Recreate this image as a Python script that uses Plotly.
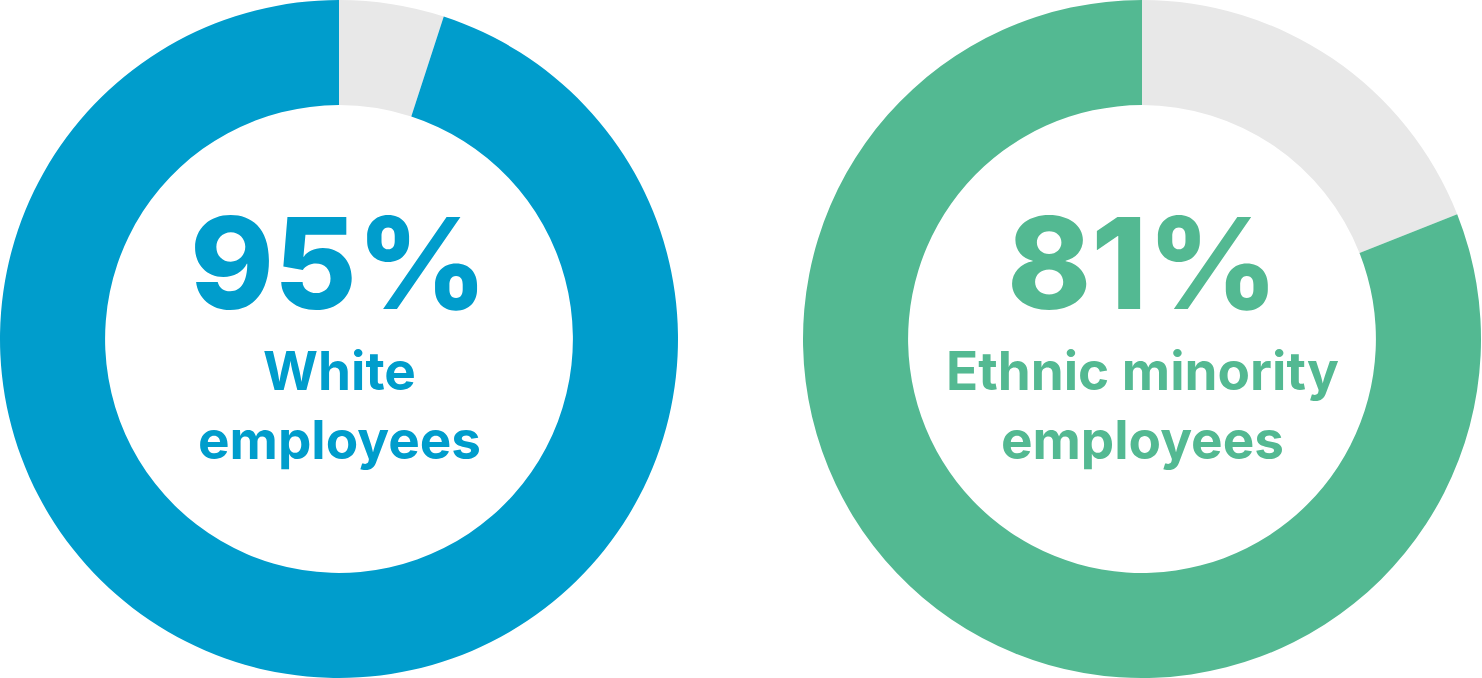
import plotly.graph_objects as go

# share of employees answering positively, by group (percent)
groups = ["White employees", "Ethnic minority employees"]
values = [95, 81]
label_lines = [["White", "employees"], ["Ethnic minority", "employees"]]
colours = ["#009DCC", "#53B992"]
grey = "#E8E8E8"

W, H = 1482, 678
FONT = "Inter"

fig = go.Figure()

# donut domains (left and right squares of full height)
domains = [[0, 678 / W], [803 / W, 1481 / W]]

for i, g in enumerate(groups):
    v = values[i]
    fig.add_trace(go.Pie(
        labels=["rest", g],
        values=[100 - v, v],
        hole=0.69,
        sort=False,
        direction="clockwise",
        rotation=0,
        marker=dict(colors=[grey, colours[i]], line=dict(width=0)),
        textinfo="none",
        hoverinfo="label+value",
        showlegend=False,
        domain=dict(x=domains[i], y=[0, 1]),
    ))

    cx = (domains[i][0] + domains[i][1]) / 2
    fig.add_annotation(
        x=cx, y=1 - 263 / H, xref="paper", yref="paper",
        text=f"{v}%", showarrow=False,
        xanchor="center", yanchor="middle",
        font=dict(family=FONT, size=127, color=colours[i], weight=800),
    )
    fig.add_annotation(
        x=cx, y=1 - 405 / H, xref="paper", yref="paper",
        text="<br>".join(label_lines[i]), showarrow=False,
        xanchor="center", yanchor="middle",
        font=dict(family=FONT, size=53, color=colours[i], weight=700),
    )

fig.update_layout(
    width=W, height=H,
    margin=dict(l=0, r=0, t=0, b=0),
    paper_bgcolor="white",
    plot_bgcolor="white",
)

# drop the browser's default page margin so the figure sits at the corner
fig.write_html("out.html", config={"displayModeBar": False},
               post_script="document.body.style.margin='0';")
